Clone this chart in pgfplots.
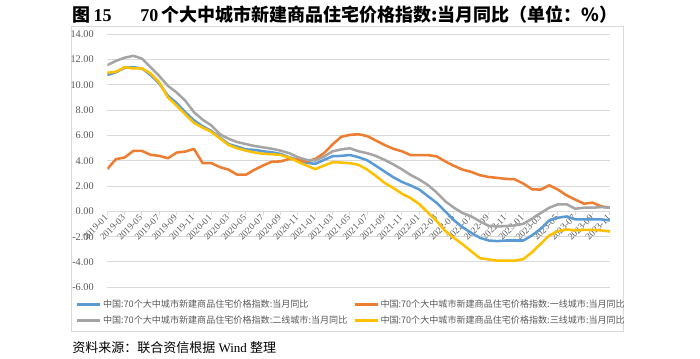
\documentclass[border=0pt]{standalone}
\usepackage{pgfplots}
\usepackage{pgfplotstable}
\pgfplotsset{compat=1.18}
\usepackage{fontspec}
\setmainfont{Liberation Serif}
\newfontfamily\cjk{Noto Sans CJK SC}
\definecolor{cBlue}{HTML}{5B9BD5}
\definecolor{cOrange}{HTML}{ED7D31}
\definecolor{cGray}{HTML}{A5A5A5}
\definecolor{cYellow}{HTML}{FFC000}
\definecolor{gridc}{HTML}{D9D9D9}
\definecolor{tickc}{HTML}{595959}
\pgfplotstableread{
i b o g y
0 10.78 3.35 11.56 10.96
1 11.00 4.13 11.90 11.04
2 11.35 4.26 12.15 11.40
3 11.40 4.78 12.30 11.30
4 11.30 4.78 12.08 11.30
5 10.78 4.47 11.40 10.90
6 10.10 4.39 10.70 10.20
7 9.14 4.20 9.92 9.00
8 8.57 4.65 9.40 8.36
9 7.84 4.73 8.75 7.66
10 7.20 4.94 7.84 7.00
11 6.73 3.82 7.25 6.62
12 6.36 3.82 6.80 6.29
13 5.84 3.50 6.10 5.77
14 5.32 3.30 5.74 5.25
15 5.12 2.90 5.48 4.99
16 4.90 2.90 5.32 4.80
17 4.86 3.30 5.17 4.65
18 4.75 3.64 5.06 4.55
19 4.67 3.93 4.95 4.52
20 4.54 3.95 4.80 4.46
21 4.28 4.15 4.60 4.25
22 4.07 4.10 4.28 3.92
23 3.84 3.95 4.07 3.62
24 3.76 4.15 4.02 3.34
25 4.07 4.60 4.33 3.62
26 4.36 5.30 4.75 3.89
27 4.39 5.90 4.90 3.86
28 4.46 6.05 4.99 3.81
29 4.28 6.10 4.75 3.68
30 4.04 5.95 4.60 3.30
31 3.60 5.60 4.38 2.80
32 3.15 5.25 4.07 2.25
33 2.70 4.95 3.72 1.85
34 2.33 4.75 3.32 1.40
35 2.05 4.45 2.88 1.05
36 1.73 4.45 2.52 0.58
37 1.20 4.45 2.08 -0.10
38 0.68 4.35 1.50 -0.75
39 0.00 3.95 0.80 -1.55
40 -0.70 3.60 0.29 -2.10
41 -1.25 3.30 -0.13 -2.60
42 -1.70 3.12 -0.40 -3.15
43 -2.09 2.86 -0.79 -3.70
44 -2.30 2.72 -1.14 -3.80
45 -2.35 2.65 -1.19 -3.89
46 -2.30 2.57 -1.16 -3.89
47 -2.30 2.54 -1.11 -3.89
48 -2.30 2.20 -0.98 -3.78
49 -1.90 1.75 -0.58 -3.23
50 -1.38 1.72 -0.13 -2.57
51 -0.71 2.06 0.29 -1.90
52 -0.50 1.72 0.56 -1.56
53 -0.40 1.27 0.56 -1.43
54 -0.63 0.93 0.21 -1.50
55 -0.63 0.61 0.29 -1.46
56 -0.63 0.69 0.29 -1.46
57 -0.63 0.40 0.34 -1.50
58 -0.71 0.29 0.29 -1.59
}\data
\begin{document}
\begin{tikzpicture}
\useasboundingbox (0,0) rectangle (525pt,-269.25pt);
\draw[gridc, line width=0.75pt] (53.6pt,-20.25pt) rectangle (467.25pt,-249pt);
\node[font=\fontsize{13.5}{15}\selectfont\bfseries, inner sep=0pt] at (258.75pt,-10.8pt)
  {{\cjk 图}\,15\hspace{1.6em}70\,{\cjk 个大中城市新建商品住宅价格指数:当月同比（单位：\%）}};
\node[font=\fontsize{9.75}{11}\selectfont, anchor=west, inner sep=0pt] at (54pt,-261pt)
  {{\cjk 资料来源：联合资信根据} Wind {\cjk 整理}};
\begin{axis}[
  at={(80.475pt,-215.475pt)}, anchor=south west,
  scale only axis, width=377pt, height=189.75pt,
  xmin=0, xmax=58, ymin=-6, ymax=14,
  axis x line=middle, axis y line=left,
  hide obscured x ticks=false, hide obscured y ticks=false,
  x axis line style={draw=gridc, line width=0.75pt, -},
  y axis line style={draw=none},
  ytick={-6,-4,...,14},
  ymajorgrids, grid style={gridc, line width=0.75pt},
  ytick style={draw=none},
  yticklabel style={font=\fontsize{7.7}{9}\selectfont, color=tickc, inner sep=0pt, xshift=-8.5pt,
    /pgf/number format/fixed, /pgf/number format/fixed zerofill, /pgf/number format/precision=2,
    /pgf/number format/assume math mode=true},
  xtick={0,2,...,58},
  xticklabels={2019-01,2019-03,2019-05,2019-07,2019-09,2019-11,2020-01,2020-03,2020-05,2020-07,2020-09,2020-11,2021-01,2021-03,2021-05,2021-07,2021-09,2021-11,2022-01,2022-03,2022-05,2022-07,2022-09,2022-11,2023-01,2023-03,2023-05,2023-07,2023-09,2023-11},
  xticklabel style={rotate=45, anchor=east, font=\fontsize{7}{8}\selectfont, color=tickc, inner sep=1pt},
  x tick style={draw=gridc, line width=0.75pt},
  xtick align=outside, major tick length=3pt,
  legend columns=2,
  legend cell align=left,
  legend style={at={(0.4848,-0.0996)}, anchor=center, draw=none, fill=none,
    font=\cjk\fontsize{6.8}{8}\selectfont, text=tickc, row sep=3pt,
    nodes={inner sep=1pt},
    /tikz/every even column/.append style={column sep=3.5pt}},
  legend image code/.code={\draw[#1, line width=1.9pt] (0pt,0pt) -- (17.5pt,0pt);},
  every axis plot/.append style={line width=1.9pt, line join=round},
]
\addplot[cBlue] table[x=i,y=b] {\data};
\addlegendentry{中国:70个大中城市新建商品住宅价格指数:当月同比}
\addplot[cOrange] table[x=i,y=o] {\data};
\addlegendentry{中国:70个大中城市新建商品住宅价格指数:一线城市:当月同比}
\addplot[cGray] table[x=i,y=g] {\data};
\addlegendentry{中国:70个大中城市新建商品住宅价格指数:二线城市:当月同比}
\addplot[cYellow] table[x=i,y=y] {\data};
\addlegendentry{中国:70个大中城市新建商品住宅价格指数:三线城市:当月同比}
\end{axis}
\end{tikzpicture}
\end{document}
